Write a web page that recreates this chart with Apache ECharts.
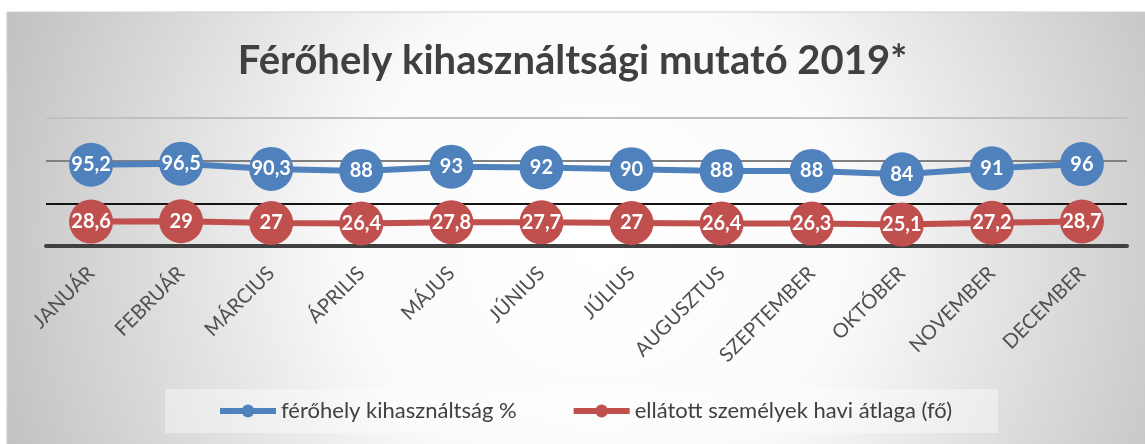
<!DOCTYPE html>
<html>
<head>
<meta charset="utf-8">
<script src="https://cdn.jsdelivr.net/npm/echarts@6/dist/echarts.min.js"></script>
<style>
    html, body { margin: 0; padding: 0; background: #fff; }
    #chart { width: 1145px; height: 444px; }
</style>
</head>
<body>
<div id="chart"></div>
<script>
    // adatok
    const months = ['JANUÁR', 'FEBRUÁR', 'MÁRCIUS', 'ÁPRILIS', 'MÁJUS', 'JÚNIUS',
        'JÚLIUS', 'AUGUSZTUS', 'SZEPTEMBER', 'OKTÓBER', 'NOVEMBER', 'DECEMBER'];
    const occupancy = [95.2, 96.5, 90.3, 88, 93, 92, 90, 88, 88, 84, 91, 96];
    const avgPersons = [28.6, 29, 27, 26.4, 27.8, 27.7, 27, 26.4, 26.3, 25.1, 27.2, 28.7];
    const seriesNames = ['férőhely kihasználtság %', 'ellátott személyek havi átlaga (fő)'];

    const font = 'Lato, "Open Sans", sans-serif';
    let myChart = echarts.init(document.getElementById('chart'));

    function makeSeries(name, data, color) {
        return {
            name: name,
            type: 'line',
            data: data,
            symbol: 'circle',
            symbolSize: 44,
            lineStyle: { color: color, width: 6 },
            itemStyle: { color: color },
            label: {
                show: true,
                position: 'inside',
                color: '#fff',
                fontFamily: font,
                fontWeight: 'bold',
                fontSize: 20,
                formatter: p => String(p.value).replace('.', ',')
            }
        };
    }

    let option = {
        animation: false,
        graphic: [{
            type: 'rect',
            z: -10,
            shape: { x: 7, y: 12, width: 1150, height: 440 },
            style: {
                fill: new echarts.graphic.RadialGradient(600, 240, 640, [
                    { offset: 0, color: '#ffffff' },
                    { offset: 0.4, color: '#fafafa' },
                    { offset: 1, color: '#c0c0c0' }
                ], true),
                stroke: '#cfcfcf',
                lineWidth: 1
            }
        }],
        title: {
            text: 'Férőhely kihasználtsági mutató 2019*',
            left: 'center',
            top: 36,
            textStyle: {
                fontFamily: font,
                fontWeight: 'bold',
                fontSize: 40,
                color: '#404040'
            }
        },
        legend: {
            data: seriesNames,
            left: 165,
            top: 389,
            padding: [11, 46, 11, 52],
            backgroundColor: 'rgba(255,255,255,0.4)',
            itemWidth: 56,
            itemHeight: 16,
            itemGap: 54,
            lineStyle: { width: 6 },
            textStyle: { fontFamily: font, fontSize: 22, color: '#404040' }
        },
        grid: { left: 46, right: 18, top: 118, bottom: 198 },
        xAxis: {
            type: 'category',
            data: months,
            axisLine: { lineStyle: { color: '#404040', width: 4 } },
            axisTick: { show: false },
            axisLabel: {
                rotate: 45,
                margin: 24,
                interval: 0,
                fontFamily: font,
                fontSize: 20,
                color: '#505050'
            }
        },
        yAxis: {
            type: 'value',
            min: 0,
            max: 150,
            interval: 50,
            axisLabel: { show: false },
            axisLine: { show: false },
            axisTick: { show: false },
            splitLine: {
                lineStyle: {
                    color: ['#404040', '#141414', '#808080', '#c0c0c0'],
                    width: 2
                }
            }
        },
        series: [
            makeSeries(seriesNames[0], occupancy, '#4f81bd'),
            makeSeries(seriesNames[1], avgPersons, '#c0504d')
        ]
    };
    myChart.setOption(option);
</script>
</body>
</html>
